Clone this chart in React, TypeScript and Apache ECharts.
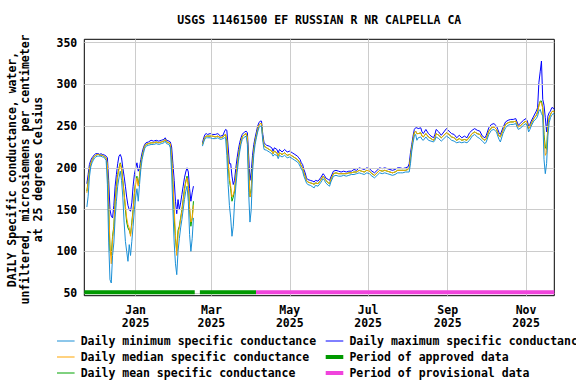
import React, { useEffect, useRef } from "react";
import * as echarts from "echarts";

// Day offsets from 2024-11-22 (UTC); null row = data gap
const days = [
  2, 3, 4, 5, 6, 7, 8, 9, 10, 11, 12, 13, 14, 15, 16, 17, 18, 19, 20, 21, 22, 23, 24, 25, 26, 27, 28,
  29, 30, 31, 32, 33, 34, 35, 36, 37, 38, 39, 40, 41, 42, 43, 44, 45, 46, 47, 48, 50, 52, 54, 56, 58,
  60, 62, 63, 64, 66, 67, 68, 69, 70, 71, 72, 73, 74, 75, 76, 77, 78, 79, 80, 81, 82, 83, 84, 85,
  88,
  92, 93, 94, 95, 96, 98, 100, 102, 104, 106, 108, 109, 110, 111, 112, 113, 114, 115, 116, 117, 118,
  119, 120, 121, 122, 123, 124, 125, 126, 127, 128, 129, 130, 131, 132, 133, 134, 135, 136, 137, 138,
  139, 140, 142, 144, 146, 147, 148, 150, 151, 152, 154, 156, 158, 160,
  162, 164, 166, 167, 168, 169, 170, 171, 172, 173, 174, 176, 178, 179, 180, 182, 184, 186, 187, 188,
  190, 191, 192, 194, 196, 198, 200, 202, 204, 206, 208, 210, 212, 214, 216, 218, 220, 222, 224, 226,
  228, 230, 232, 234, 236, 238, 240, 242, 244, 246, 248, 250, 252, 253, 254, 255, 256, 257,
  258, 259, 260, 262, 263, 264, 266, 268, 270, 272, 273, 274, 276, 278, 280, 282, 284, 286, 288, 290,
  292, 294, 296, 298, 300, 302, 304, 306, 308, 310, 312, 313, 315, 317, 319, 321, 322, 323, 324, 326,
  328, 330, 332, 334, 336, 337, 338, 340, 342, 344, 345, 346, 347, 348, 350, 352, 353, 354, 355, 356,
  357, 358, 359, 360, 361, 362, 363, 364, 365, 366,
];

const maxVals = [
  181, 192, 204, 209, 212, 214, 216, 217, 217, 217, 216, 217, 216, 216, 215, 214, 212, 185, 150, 142, 140, 155, 178, 192, 205, 214, 216,
  212, 200, 190, 178, 165, 155, 150, 148, 158, 178, 192, 200, 206, 196, 200, 210, 218, 224, 228, 230, 231, 233, 232, 233, 232,
  233, 234, 236, 233, 232, 231, 225, 205, 185, 160, 145, 162, 150, 158, 168, 178, 188, 195, 200, 195, 175, 160, 170, 178,
  null,
  230, 236, 240, 241, 240, 241, 240, 240, 241, 238, 239, 243, 246, 245, 225, 205, 205, 190, 180, 185, 200,
  212, 222, 230, 236, 240, 242, 243, 244, 242, 215, 185, 195, 215, 228, 236, 243, 250, 254, 256, 256,
  240, 230, 227, 226, 224, 220, 224, 222, 218, 222, 219, 222, 219, 220,
  218, 216, 214, 212, 210, 206, 204, 198, 194, 188, 186, 185, 184, 183, 185, 184, 188, 193, 191, 188,
  186, 185, 189, 196, 197, 196, 195, 196, 195, 196, 196, 198, 197, 200, 199, 198, 200, 199, 196, 194,
  197, 200, 199, 200, 199, 198, 197, 198, 200, 200, 199, 200, 201, 205, 218, 228, 238, 246,
  248, 248, 247, 248, 243, 241, 246, 241, 238, 236, 240, 246, 243, 239, 243, 247, 244, 241, 240, 236,
  239, 236, 238, 236, 242, 245, 247, 245, 244, 238, 236, 239, 248, 252, 253, 250, 246, 242, 240, 248,
  255, 257, 258, 258, 259, 255, 251, 254, 257, 259, 256, 250, 252, 256, 262, 268, 272, 302, 315, 328,
  282, 275, 260, 243, 262, 266, 268, 272, 272, 270,
];

const meanVals = [
  172, 184, 197, 205, 209, 212, 214, 215, 216, 216, 215, 215, 215, 214, 213, 212, 200, 150, 100, 95, 118, 130, 160, 178, 192, 200, 206,
  200, 185, 170, 150, 135, 128, 125, 120, 135, 150, 170, 185, 190, 180, 190, 205, 214, 220, 226, 228, 229, 230, 230, 231, 230,
  231, 232, 234, 231, 230, 228, 212, 180, 140, 115, 100, 125, 130, 140, 150, 162, 175, 184, 190, 180, 150, 130, 140, 160,
  null,
  228, 233, 237, 238, 238, 238, 238, 237, 238, 236, 237, 239, 240, 232, 205, 185, 175, 160, 165, 172, 188,
  202, 214, 224, 232, 237, 239, 240, 241, 236, 195, 165, 175, 205, 222, 232, 239, 246, 251, 253, 253,
  236, 226, 224, 222, 220, 217, 220, 218, 214, 218, 216, 218, 215, 216,
  214, 212, 210, 208, 206, 202, 200, 194, 190, 185, 183, 182, 181, 180, 182, 181, 185, 190, 188, 185,
  182, 181, 186, 193, 194, 193, 193, 193, 193, 194, 194, 195, 195, 197, 196, 195, 197, 196, 193, 191,
  194, 197, 196, 197, 196, 195, 194, 195, 197, 197, 197, 197, 198, 200, 212, 224, 234, 242,
  244, 241, 241, 242, 238, 237, 241, 237, 235, 233, 236, 241, 239, 236, 239, 242, 240, 237, 236, 233,
  235, 233, 234, 233, 237, 241, 243, 241, 240, 235, 233, 235, 244, 248, 249, 246, 242, 238, 237, 245,
  252, 254, 255, 255, 256, 252, 249, 251, 254, 256, 253, 247, 249, 253, 259, 263, 267, 275, 280, 280,
  272, 240, 225, 222, 250, 260, 264, 267, 268, 267,
];

const medianVals = [
  170, 183, 197, 205, 209, 212, 214, 215, 216, 216, 215, 215, 215, 214, 213, 212, 204, 155, 108, 85, 115, 128, 158, 175, 190, 198, 205,
  198, 183, 168, 155, 140, 132, 128, 118, 132, 148, 168, 180, 188, 178, 188, 204, 213, 220, 226, 228, 229, 230, 230, 231, 230,
  231, 232, 234, 231, 230, 229, 214, 185, 150, 120, 95, 120, 128, 138, 148, 160, 172, 182, 188, 178, 152, 135, 138, 155,
  null,
  228, 233, 237, 238, 238, 238, 238, 237, 238, 236, 237, 239, 240, 234, 208, 188, 178, 165, 168, 174, 188,
  202, 214, 224, 232, 237, 239, 240, 241, 237, 200, 165, 172, 203, 221, 232, 239, 246, 251, 253, 253,
  236, 226, 224, 222, 220, 217, 220, 218, 214, 218, 216, 218, 215, 216,
  214, 212, 210, 208, 206, 202, 200, 194, 190, 185, 183, 182, 181, 180, 182, 181, 185, 190, 188, 185,
  182, 181, 186, 193, 194, 193, 193, 193, 193, 194, 194, 195, 195, 197, 196, 195, 197, 196, 193, 191,
  194, 197, 196, 197, 196, 195, 194, 195, 197, 197, 197, 197, 198, 200, 212, 224, 234, 242,
  244, 241, 241, 242, 238, 237, 241, 237, 235, 233, 236, 241, 239, 236, 239, 242, 240, 237, 236, 233,
  235, 233, 234, 233, 237, 241, 243, 241, 240, 235, 233, 235, 244, 248, 249, 246, 242, 238, 237, 245,
  252, 254, 255, 255, 256, 252, 249, 251, 254, 256, 253, 247, 249, 253, 259, 263, 267, 274, 279, 278,
  271, 235, 215, 218, 248, 259, 264, 267, 268, 267,
];

const minVals = [
  153, 166, 189, 201, 206, 209, 212, 213, 214, 214, 214, 214, 213, 213, 211, 209, 180, 110, 66, 62, 95, 110, 140, 160, 178, 188, 196,
  185, 165, 135, 112, 100, 88, 108, 95, 112, 130, 150, 165, 175, 160, 180, 198, 210, 217, 223, 226, 227, 228, 228, 229, 228,
  229, 230, 232, 229, 228, 224, 195, 150, 110, 85, 72, 100, 115, 128, 138, 150, 162, 172, 178, 160, 120, 100, 115, 140,
  null,
  226, 231, 235, 236, 236, 236, 235, 235, 236, 234, 235, 236, 236, 215, 180, 155, 140, 118, 130, 158, 178,
  194, 208, 219, 228, 234, 236, 237, 238, 228, 170, 135, 150, 195, 216, 228, 236, 243, 248, 250, 250,
  232, 222, 221, 219, 217, 214, 216, 215, 211, 215, 213, 215, 212, 213,
  211, 209, 207, 205, 202, 199, 196, 190, 186, 182, 180, 179, 177, 176, 179, 178, 182, 187, 185, 182,
  179, 178, 183, 190, 191, 190, 190, 191, 190, 191, 192, 192, 193, 194, 193, 192, 194, 193, 190, 188,
  191, 194, 193, 194, 193, 192, 191, 192, 194, 194, 194, 195, 195, 195, 205, 220, 230, 238,
  240, 233, 236, 237, 234, 233, 237, 233, 232, 231, 233, 237, 235, 232, 235, 238, 236, 233, 232, 230,
  231, 230, 231, 230, 233, 238, 240, 237, 235, 232, 229, 231, 240, 245, 246, 243, 238, 234, 231, 241,
  248, 251, 252, 252, 253, 249, 246, 248, 251, 253, 250, 243, 246, 250, 256, 259, 262, 268, 270, 265,
  262, 210, 193, 205, 238, 254, 260, 263, 265, 264,
];

// Data-quality periods as day offsets [start, end]
const approvedPeriods = [[0, 86], [90, 133.7]];
const provisionalPeriods = [[133.7, 366]];
const periodLevel = 51;

const yTicks = [50, 100, 150, 200, 250, 300, 350];
const monthTicks = [
  [2025, 0], [2025, 2], [2025, 4], [2025, 6], [2025, 8], [2025, 10],
];
const monthNames = ["Jan", "Feb", "Mar", "Apr", "May", "Jun", "Jul", "Aug", "Sep", "Oct", "Nov", "Dec"];

const titleText = "USGS 11461500 EF RUSSIAN R NR CALPELLA CA";
const yNameLines = [
  "DAILY Specific conductance, water,",
  "unfiltered, microsiemens per centimeter",
  "at 25 degrees Celsius",
];

const COLORS = {
  min: "#1a8fd6",
  median: "#ffa500",
  mean: "#00a300",
  max: "#0000ff",
  approved: "#009900",
  provisional: "#f044dc",
};

const BASE = Date.UTC(2024, 10, 22);
const DAY = 86400000;
const ts = (d: number) => BASE + d * DAY;
const FONT = "'DejaVu Sans Mono', monospace";

export default function App() {
  const ref = useRef<HTMLDivElement>(null);
  useEffect(() => {
    document.body.style.margin = "0";
    const chart = echarts.init(ref.current!, undefined, { renderer: "svg" });
    const mk = (vals: (number | null)[]) => days.map((d, i) => [ts(d), vals[i]]);
    const periodData = (periods: number[][]) => {
      const out: any[] = [];
      periods.forEach((p, i) => {
        if (i > 0) out.push([ts((periods[i - 1][1] + p[0]) / 2), null]);
        out.push([ts(p[0]), periodLevel]);
        out.push([ts(p[1]), periodLevel]);
      });
      return out;
    };
    const monthTs = monthTicks.map(([y, m]) => Date.UTC(y, m, 1));
    const lineSeries = (name: string, vals: (number | null)[], color: string, z: number) => ({
      name,
      type: "line",
      data: mk(vals),
      showSymbol: false,
      symbol: "none",
      connectNulls: false,
      lineStyle: { color, width: 1 },
      itemStyle: { color },
      z,
    });
    const legendItems = [
      { col: 0, row: 0, text: "Daily minimum specific conductance", color: COLORS.min, w: 1 },
      { col: 0, row: 1, text: "Daily median specific conductance", color: COLORS.median, w: 1 },
      { col: 0, row: 2, text: "Daily mean specific conductance", color: COLORS.mean, w: 1 },
      { col: 1, row: 0, text: "Daily maximum specific conductance", color: COLORS.max, w: 1 },
      { col: 1, row: 1, text: "Period of approved data", color: COLORS.approved, w: 4 },
      { col: 1, row: 2, text: "Period of provisional data", color: COLORS.provisional, w: 4 },
    ];
    const colX = [57, 325.7];
    const rowY = [341, 357, 373];
    const graphics: any[] = [
      {
        type: "text",
        x: 319.3,
        y: 20,
        style: {
          text: titleText, fill: "#000", fontFamily: FONT, fontWeight: "bold", fontSize: 11.5,
          align: "center", verticalAlign: "middle",
        },
      },
      {
        type: "text",
        x: 25,
        y: 169.5,
        rotation: Math.PI / 2,
        style: {
          text: yNameLines.join("\n"), fill: "#000", fontFamily: FONT, fontWeight: "bold", fontSize: 11.5,
          lineHeight: 13.3, align: "center", verticalAlign: "middle",
        },
      },
    ];
    legendItems.forEach((it) => {
      const x0 = colX[it.col];
      const y = rowY[it.row];
      graphics.push({
        type: "line",
        shape: { x1: x0, y1: y, x2: x0 + 17.6, y2: y },
        style: { stroke: it.color, lineWidth: it.w },
      });
      graphics.push({
        type: "text",
        x: x0 + 23.7,
        y,
        style: {
          text: it.text, fill: "#000", fontFamily: FONT, fontWeight: "bold", fontSize: 11.5,
          align: "left", verticalAlign: "middle",
        },
      });
    });

    chart.setOption({
      animation: false,
      backgroundColor: "#fff",
      grid: {
        left: 84.3, right: 21.7, top: 39.3, bottom: 88.3,
        show: true, borderColor: "#000", borderWidth: 1, backgroundColor: "transparent",
        containLabel: false,
      },
      xAxis: {
        type: "value",
        min: ts(0),
        max: ts(366),
        axisLine: { show: false },
        axisTick: { show: false },
        splitLine: { show: false },
        axisLabel: {
          customValues: monthTs,
          formatter: (v: number) => {
            const d = new Date(v);
            return monthNames[d.getUTCMonth()] + "\n" + d.getUTCFullYear();
          },
          color: "#000", fontFamily: FONT, fontWeight: "bold", fontSize: 11.5, lineHeight: 12.7,
          margin: 8, hideOverlap: false,
        },
      },
      yAxis: {
        type: "value",
        min: 46.8,
        max: 354,
        axisLine: { show: false },
        axisTick: { show: false },
        splitLine: { show: false },
        axisLabel: {
          customValues: yTicks,
          color: "#000", fontFamily: FONT, fontWeight: "bold", fontSize: 11.5, margin: 7,
        },
      },
      graphic: graphics,
      series: [
        {
          name: "grid",
          type: "line",
          data: [],
          z: 1,
          silent: true,
          markLine: {
            silent: true,
            symbol: "none",
            animation: false,
            label: { show: false },
            lineStyle: { color: "#cccccc", width: 1, type: "solid" },
            data: [
              ...yTicks.map((v) => ({ yAxis: v })),
              ...monthTs.map((t) => ({ xAxis: t })),
            ],
          },
        },
        lineSeries("Daily maximum specific conductance", maxVals, COLORS.max, 3),
        lineSeries("Daily mean specific conductance", meanVals, COLORS.mean, 4),
        lineSeries("Daily median specific conductance", medianVals, COLORS.median, 5),
        lineSeries("Daily minimum specific conductance", minVals, COLORS.min, 6),
        {
          name: "Period of approved data",
          type: "line",
          data: periodData(approvedPeriods),
          showSymbol: false,
          symbol: "none",
          connectNulls: false,
          lineStyle: { color: COLORS.approved, width: 4, cap: "butt" },
          z: 7,
        },
        {
          name: "Period of provisional data",
          type: "line",
          data: periodData(provisionalPeriods),
          showSymbol: false,
          symbol: "none",
          lineStyle: { color: COLORS.provisional, width: 4, cap: "butt" },
          z: 7,
        },
      ],
    });
    return () => chart.dispose();
  }, []);
  return (
    <div
      ref={ref}
      style={{ position: "absolute", left: 0, top: 0, width: 576, height: 384, background: "#fff" }}
    />
  );
}
